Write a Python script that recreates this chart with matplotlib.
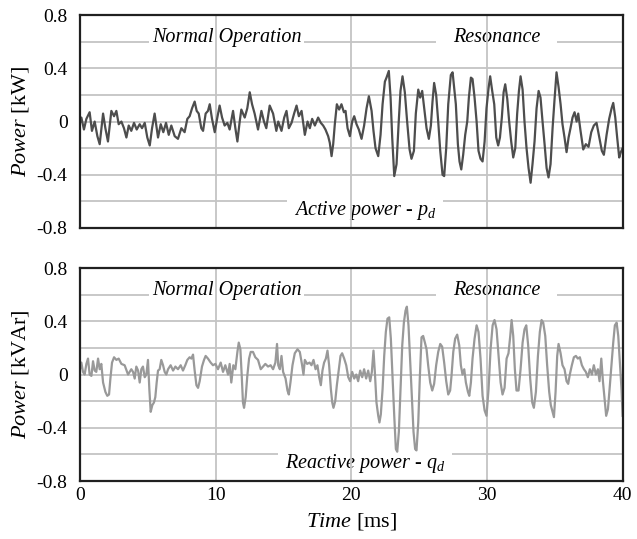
import matplotlib
matplotlib.use("Agg")
import matplotlib.pyplot as plt

plt.rcParams['font.family'] = ['Liberation Serif', 'DejaVu Serif']
plt.rcParams['mathtext.fontset'] = 'custom'
plt.rcParams['mathtext.rm'] = 'Liberation Serif'
plt.rcParams['mathtext.it'] = 'Liberation Serif:italic'

# active power p_d (kW)
time_p = [0.0, 0.10, 0.29, 0.47, 0.71, 0.88, 1.08, 1.28, 1.45, 1.70, 1.87, 2.06, 2.31, 2.51, 2.68, 2.85,
          3.05, 3.24, 3.42, 3.59, 3.78, 3.98, 4.18, 4.40, 4.57, 4.77, 4.96, 5.14, 5.31, 5.50, 5.75, 5.95,
          6.14, 6.34, 6.54, 6.73, 6.98, 7.22, 7.47, 7.71, 7.91, 8.08, 8.26, 8.45, 8.60, 8.75, 8.94, 9.07,
          9.26, 9.43, 9.56, 9.73, 9.93, 10.12, 10.29, 10.47, 10.66, 10.86, 11.03, 11.28, 11.45, 11.60,
          11.77, 11.89, 12.14, 12.33, 12.51, 12.68, 12.87, 13.12, 13.37, 13.56, 13.73, 13.98, 14.23, 14.47,
          14.61, 14.85, 15.05, 15.22, 15.39, 15.59, 15.78, 15.96, 16.13, 16.33, 16.57, 16.77, 16.94, 17.11,
          17.31, 17.55, 17.75, 17.92, 18.09, 18.29, 18.41, 18.54, 18.66, 18.78, 18.93, 19.10, 19.27, 19.45,
          19.57, 19.72, 19.89, 20.06, 20.21, 20.38, 20.55, 20.75, 20.94, 21.12, 21.29, 21.49, 21.63, 21.78,
          21.98, 22.15, 22.30, 22.47, 22.59, 22.76, 22.89, 23.01, 23.16, 23.33, 23.48, 23.62, 23.77, 23.94,
          24.11, 24.29, 24.43, 24.61, 24.75, 24.93, 25.07, 25.22, 25.37, 25.54, 25.71, 25.86, 25.98, 26.10,
          26.25, 26.40, 26.55, 26.72, 26.84, 26.99, 27.14, 27.33, 27.46, 27.55, 27.70, 27.85, 27.97, 28.10,
          28.24, 28.39, 28.54, 28.66, 28.81, 28.93, 29.08, 29.23, 29.37, 29.52, 29.67, 29.82, 29.96, 30.11,
          30.23, 30.38, 30.53, 30.68, 30.82, 30.95, 31.09, 31.22, 31.34, 31.49, 31.63, 31.78, 31.93, 32.08,
          32.22, 32.35, 32.47, 32.62, 32.76, 32.91, 33.06, 33.21, 33.35, 33.50, 33.65, 33.80, 33.94, 34.09,
          34.24, 34.39, 34.53, 34.68, 34.83, 34.97, 35.12, 35.27, 35.42, 35.56, 35.71, 35.86, 36.01, 36.15,
          36.30, 36.45, 36.60, 36.72, 36.89, 37.09, 37.28, 37.48, 37.68, 37.87, 38.07, 38.27, 38.46, 38.61,
          38.81, 39.00, 39.18, 39.30, 39.45, 39.59, 39.74, 39.86, 39.99]
active_p = [-0.01, 0.03, -0.06, 0.02, 0.07, -0.07, 0.0, -0.11, -0.17, 0.06, -0.05, -0.15, 0.08, 0.04, 0.08, -0.02,
            0.0, -0.05, -0.12, -0.03, -0.07, -0.01, -0.06, -0.02, -0.05, -0.01, -0.12, -0.18, -0.05, 0.06, -0.12, -0.02,
            -0.08, -0.01, -0.10, -0.03, -0.11, -0.13, -0.05, -0.08, 0.02, 0.04, 0.10, 0.15, 0.08, 0.06, -0.05, -0.07,
            0.06, 0.08, 0.13, 0.02, -0.08, 0.03, 0.12, 0.03, -0.03, -0.01, -0.06, 0.08, -0.05, -0.15,
            0.0, 0.09, 0.03, 0.10, 0.22, 0.13, 0.06, -0.06, 0.08, 0.0, -0.05, 0.12, 0.06, -0.07,
            0.0, -0.07, 0.03, 0.08, -0.05, -0.01, 0.06, 0.12, 0.04, 0.08, -0.10, 0.0, -0.05, 0.02,
            -0.03, 0.03, -0.01, -0.03, -0.06, -0.11, -0.16, -0.26, -0.17, -0.02, 0.13, 0.09, 0.13, 0.07,
            0.08, -0.05, -0.11, 0.0, 0.04, -0.02, -0.06, -0.13, -0.03, 0.10, 0.19, 0.08, -0.07, -0.20,
            -0.26, -0.10, 0.13, 0.30, 0.33, 0.38, 0.18, -0.12, -0.41, -0.32, -0.02, 0.23, 0.34, 0.22,
            0.0, -0.21, -0.28, -0.22, 0.06, 0.24, 0.18, 0.23, 0.10, -0.05, -0.13, -0.03, 0.15, 0.29,
            0.20, 0.0, -0.22, -0.40, -0.41, -0.20, 0.13, 0.35, 0.37, 0.28, 0.13, -0.17, -0.30, -0.36,
            -0.25, -0.10, 0.0, 0.18, 0.33, 0.32, 0.18, 0.0, -0.22, -0.28, -0.30, -0.15, 0.10, 0.25,
            0.34, 0.23, 0.13, -0.12, -0.18, -0.12, 0.03, 0.22, 0.28, 0.17, 0.0, -0.15, -0.27, -0.20,
            0.06, 0.23, 0.34, 0.24, 0.0, -0.20, -0.35, -0.46, -0.32, -0.15, 0.10, 0.23, 0.18, 0.0,
            -0.17, -0.35, -0.42, -0.32, -0.05, 0.16, 0.37, 0.26, 0.13, -0.02, -0.12, -0.23, -0.12, -0.05,
            0.03, 0.07, 0.0, 0.06, -0.07, -0.21, -0.17, -0.19, -0.08, -0.03, -0.01, -0.12, -0.22, -0.25,
            -0.10, 0.02, 0.10, 0.14, 0.03, -0.12, -0.27, -0.23, -0.20]

# reactive power q_d (kVAr)
time_q = [0.0, 0.10, 0.22, 0.34, 0.47, 0.59, 0.71, 0.84, 0.96, 1.08, 1.20, 1.33, 1.45, 1.57, 1.70, 1.87,
          2.01, 2.14, 2.24, 2.36, 2.51, 2.68, 2.85, 3.05, 3.29, 3.54, 3.78, 3.91, 4.03, 4.15, 4.28, 4.40,
          4.52, 4.64, 4.77, 4.89, 5.01, 5.11, 5.21, 5.33, 5.45, 5.55, 5.65, 5.75, 5.87, 5.99, 6.12, 6.24,
          6.36, 6.49, 6.68, 6.86, 7.03, 7.22, 7.42, 7.59, 7.76, 7.91, 8.08, 8.21, 8.33, 8.45, 8.58, 8.70,
          8.82, 8.99, 9.14, 9.26, 9.43, 9.63, 9.80, 9.98, 10.17, 10.37, 10.54, 10.71, 10.91, 11.03, 11.15,
          11.30, 11.45, 11.60, 11.70, 11.82, 11.92, 12.01, 12.09, 12.21, 12.33, 12.46, 12.58, 12.75, 12.92,
          13.12, 13.32, 13.49, 13.66, 13.86, 14.05, 14.23, 14.40, 14.52,
          14.61, 14.73, 14.85, 14.97, 15.15, 15.29, 15.39, 15.51, 15.66, 15.83, 16.03, 16.20, 16.37, 16.47,
          16.57, 16.74, 16.92, 17.06, 17.21, 17.36, 17.50, 17.63, 17.75, 17.87, 17.99, 18.12, 18.24, 18.36,
          18.49, 18.59, 18.68, 18.81, 18.93, 19.08, 19.20, 19.32, 19.47, 19.62, 19.77, 19.91, 20.06, 20.21,
          20.36, 20.50, 20.65, 20.80, 20.94, 21.09, 21.24, 21.39, 21.51, 21.63, 21.73, 21.85, 21.98, 22.07,
          22.17, 22.30, 22.42, 22.54, 22.66, 22.79, 22.91, 23.03, 23.16, 23.28, 23.38, 23.50, 23.62, 23.75,
          23.87, 23.99, 24.09, 24.21, 24.34, 24.46, 24.58, 24.70, 24.80, 24.93, 25.05, 25.17, 25.29, 25.42,
          25.54, 25.66, 25.81, 25.96, 26.10, 26.25, 26.40, 26.55, 26.69, 26.84, 26.99, 27.14, 27.28,
          27.38, 27.51, 27.65, 27.80, 27.95, 28.07, 28.19, 28.32, 28.44, 28.59, 28.69, 28.81, 28.93, 29.08,
          29.23, 29.37, 29.52, 29.67, 29.82, 29.96, 30.11, 30.26, 30.41, 30.55, 30.70, 30.85, 31.00, 31.14,
          31.29, 31.44, 31.58, 31.71, 31.81, 31.93, 32.05, 32.17, 32.32, 32.47, 32.62, 32.76, 32.89, 33.03,
          33.18, 33.33, 33.45, 33.60, 33.75, 33.89, 34.02, 34.14, 34.29, 34.43, 34.58, 34.70, 34.83, 34.93,
          35.05, 35.17, 35.27, 35.42, 35.56, 35.71, 35.86, 35.98, 36.10, 36.25, 36.40, 36.55, 36.69, 36.84,
          36.99, 37.14, 37.28, 37.43, 37.58, 37.73, 37.87, 38.02, 38.17, 38.29, 38.42, 38.54, 38.66, 38.78,
          38.91, 39.03, 39.18, 39.30, 39.42, 39.55, 39.67, 39.79, 39.91, 39.99]
reactive_q = [0.04, 0.09, 0.02, 0.0, 0.08, 0.12, 0.0, -0.01, 0.10, 0.03, 0.02, 0.12, 0.04, 0.08, -0.06, -0.13,
              -0.16, -0.15, -0.03, 0.09, 0.13, 0.11, 0.12, 0.08, 0.07, 0.0, 0.04, 0.02, -0.03, 0.06, 0.03, -0.06,
              0.04, 0.06, -0.02, 0.0, 0.11, -0.11, -0.28, -0.23, -0.21, -0.17, -0.06, 0.03, 0.04, 0.11, 0.07, 0.02,
              0.0, 0.04, 0.07, 0.03, 0.06, 0.04, 0.07, 0.03, 0.07, 0.11, 0.13, 0.12, 0.15, 0.03, -0.08, -0.10,
              -0.05, 0.06, 0.11, 0.14, 0.12, 0.09, 0.07, 0.08, 0.04, 0.09, 0.02, 0.07, 0.0, 0.08, -0.06,
              0.07, 0.04, 0.17, 0.24, 0.19, -0.01, -0.21, -0.25, -0.17, -0.01, 0.12, 0.17, 0.17, 0.13,
              0.11, 0.04, 0.06, 0.08, 0.06, 0.07, 0.04, 0.09, 0.23,
              0.07, 0.04, 0.14, 0.02, -0.03, -0.12, -0.15, -0.06, 0.07, 0.16, 0.19, 0.17, 0.07, 0.0,
              0.11, 0.08, 0.09, 0.07, 0.11, 0.04, 0.07, -0.02, -0.08, 0.03, 0.09, 0.12, 0.18, 0.07,
              -0.11, -0.21, -0.25, -0.20, -0.08, 0.04, 0.14, 0.16, 0.12, 0.07, -0.02, -0.05, 0.02, -0.03,
              0.0, -0.05, 0.03, -0.02, 0.04, -0.03, 0.03, -0.05, 0.02, 0.18, 0.02, -0.21, -0.31, -0.36,
              -0.30, -0.11, 0.14, 0.32, 0.42, 0.43, 0.27, -0.01, -0.31, -0.56, -0.58, -0.43, -0.11, 0.22,
              0.39, 0.48, 0.51, 0.37, 0.09, -0.18, -0.43, -0.56, -0.57, -0.36, -0.01, 0.28, 0.29, 0.24,
              0.19, 0.07, -0.06, -0.12, -0.07, 0.07, 0.17, 0.23, 0.21, 0.09, -0.05, -0.15, -0.12,
              -0.01, 0.17, 0.27, 0.30, 0.22, 0.07, 0.0, 0.04, -0.06, -0.13, -0.16, -0.06, 0.12, 0.27,
              0.37, 0.32, 0.12, -0.16, -0.27, -0.31, -0.11, 0.19, 0.37, 0.41, 0.34, 0.14, -0.06, -0.15,
              -0.10, 0.12, 0.16, 0.29, 0.41, 0.29, 0.04, -0.12, -0.12, 0.04, 0.24, 0.34, 0.37, 0.22,
              -0.03, -0.21, -0.25, -0.13, 0.14, 0.32, 0.41, 0.39, 0.29, 0.07, -0.13, -0.23, -0.28, -0.32,
              -0.13, 0.14, 0.23, 0.16, 0.07, 0.04, -0.05, -0.07, 0.0, 0.07, 0.13, 0.14, 0.12, 0.13,
              0.07, 0.04, 0.02, -0.02, 0.04, 0.0, 0.07, 0.0, 0.04, -0.05, 0.12, -0.05, -0.18, -0.31,
              -0.26, -0.11, 0.09, 0.24, 0.37, 0.39, 0.29, 0.09, -0.11, -0.31]

y_ticks = [-0.8, -0.4, 0, 0.4, 0.8]
y_ticklabels = ['-0.8', '-0.4', '0', '0.4', '0.8']
x_ticks = [0, 10, 20, 30, 40]

grid_col = '#c4c4c4'

fig = plt.figure(figsize=(6.37, 5.39), dpi=100)
ax1 = fig.add_axes([0.1256, 0.577, 0.852, 0.395])
ax2 = fig.add_axes([0.1256, 0.1076, 0.852, 0.395])


def setup(ax, unit, label):
    ax.set_xlim(0, 40)
    ax.set_ylim(-0.8, 0.8)
    for yv in [-0.6, -0.4, -0.2, 0, 0.2, 0.4, 0.6]:
        ax.axhline(yv, color=grid_col, lw=1.3, zorder=0.5)
    for xv in [10, 20, 30]:
        ax.axvline(xv, color=grid_col, lw=1.3, zorder=1.5)
    ax.set_yticks(y_ticks)
    ax.set_yticklabels(y_ticklabels)
    ax.set_xticks(x_ticks)
    ax.tick_params(length=0, labelsize=14)
    ax.tick_params(axis='y', pad=9)
    ax.tick_params(axis='x', pad=4)
    for s in ax.spines.values():
        s.set_linewidth(1.6)
        s.set_color('#202020')
    ax.set_ylabel('$Power$ [' + unit + ']', fontsize=16, labelpad=4)
    box = dict(facecolor='white', edgecolor='none', pad=2)
    ax.text(10.8, 0.635, 'Normal Operation', style='italic', fontsize=14.5,
            ha='center', va='center', bbox=box, zorder=1)
    ax.text(30.7, 0.635, 'Resonance', style='italic', fontsize=14.5,
            ha='center', va='center', bbox=dict(facecolor='white', edgecolor='none', pad=12), zorder=1)
    ax.text(21.0, -0.665, label, style='italic', fontsize=14.5,
            ha='center', va='center', bbox=dict(facecolor='white', edgecolor='none', pad=5), zorder=1)


setup(ax1, 'kW', 'Active power - $p_d$')
setup(ax2, 'kVAr', 'Reactive power - $q_d$')

ax1.plot(time_p, active_p, color='#4d4d4d', lw=1.6, zorder=2)
ax2.plot(time_q, reactive_q, color='#999999', lw=1.6, zorder=2)

ax1.set_xticklabels([])
ax2.set_xlabel('$Time$ [ms]', fontsize=16, labelpad=5)

fig.savefig('out.png', dpi=100)
